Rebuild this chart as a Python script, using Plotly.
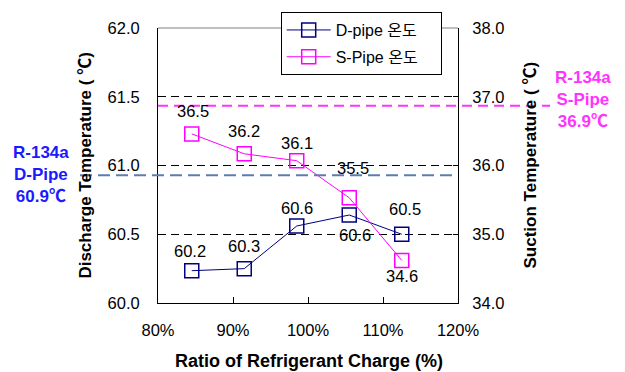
import plotly.graph_objects as go

# ---- data ----
charge_pct = [84.5, 91.5, 98.5, 105.5, 112.5]
d_pipe = [60.235, 60.25, 60.56, 60.64, 60.50]
s_pipe = [36.46, 36.17, 36.07, 35.53, 34.62]
d_labels = ["60.2", "60.3", "60.6", "60.6", "60.5"]
s_labels = ["36.5", "36.2", "36.1", "35.5", "34.6"]
x_ticks = [80, 90, 100, 110, 120]
x_ticklabels = ["80%", "90%", "100%", "110%", "120%"]
d_ref_value = 60.93
s_ref_value = 36.87
d_ref_text = "R-134a<br>D-Pipe<br>60.9℃"
s_ref_text = "R-134a<br>S-Pipe<br>36.9℃"
series_names = ["D-pipe 온도", "S-Pipe 온도"]

FONT = "Arial, 'Liberation Sans', 'Noto Sans CJK KR', sans-serif"
D_COLOR = "#000080"
S_COLOR = "#FF00FF"
PAD = "\u00a0" * 4  # widen legend box

fig = go.Figure()
fig.add_trace(go.Scatter(
    x=charge_pct, y=d_pipe, name=series_names[0] + PAD, mode="lines+markers",
    line=dict(color=D_COLOR, width=1),
    marker=dict(symbol="square-open", size=14, color=D_COLOR, line=dict(width=1.5)),
    legendgroup="d", yaxis="y"))
fig.add_trace(go.Scatter(
    x=charge_pct, y=s_pipe, name=series_names[1] + PAD, mode="lines+markers",
    line=dict(color=S_COLOR, width=1),
    marker=dict(symbol="square-open", size=14, color=S_COLOR, line=dict(width=1.5)),
    legendgroup="s", yaxis="y2"))

annotations = []
d_shift = [(-2, 20), (0, 23), (0, 18), (6, -20), (3, 25)]
s_shift = [(1, 23), (0, 23), (0, 18), (4, 30), (0, -16)]
for x, y, t, (dx, dy) in zip(charge_pct, d_pipe, d_labels, d_shift):
    annotations.append(dict(x=x, y=y, xref="x", yref="y", text=t, showarrow=False,
                            xshift=dx, yshift=dy, font=dict(size=16.5, color="black", family=FONT)))
for x, y, t, (dx, dy) in zip(charge_pct, s_pipe, s_labels, s_shift):
    annotations.append(dict(x=x, y=y, xref="x", yref="y2", text=t, showarrow=False,
                            xshift=dx, yshift=dy, font=dict(size=16.5, color="black", family=FONT)))

# reference texts
annotations.append(dict(x=-0.39, y=d_ref_value, xref="paper", yref="y", text="<b>" + d_ref_text + "</b>",
                        showarrow=False, yshift=1, font=dict(size=17, color="#1A1AFF", family=FONT),
                        xanchor="center", yanchor="middle", align="center"))
annotations.append(dict(x=1.417, y=s_ref_value, xref="paper", yref="y2", text="<b>" + s_ref_text + "</b>",
                        showarrow=False, yshift=6, font=dict(size=17, color="#FF33FF", family=FONT),
                        xanchor="center", yanchor="middle", align="center"))
# axis titles
annotations.append(dict(x=-0.243, y=0.5, xref="paper", yref="paper", text="<b>Discharge Temperature ( ℃)</b>",
                        textangle=-90, showarrow=False, font=dict(size=17, color="black", family=FONT),
                        xanchor="center", yanchor="middle"))
annotations.append(dict(x=1.24, y=0.5, xref="paper", yref="paper", text="<b>Suction Temperature ( ℃)</b>",
                        textangle=-90, showarrow=False, font=dict(size=17, color="black", family=FONT),
                        xanchor="center", yanchor="middle"))
annotations.append(dict(x=0.503, y=-0.212, xref="paper", yref="paper", text="<b>Ratio of Refrigerant Charge (%)</b>",
                        showarrow=False, font=dict(size=18, color="black", family=FONT),
                        xanchor="center", yanchor="middle"))

shapes = [
    dict(type="line", xref="paper", yref="paper", x0=0, x1=1, y0=1, y1=1,
         line=dict(color="#808080", width=1)),
    dict(type="line", xref="paper", yref="y", x0=-0.26, x1=0.98, y0=d_ref_value, y1=d_ref_value,
         line=dict(color="#5B7DB3", width=2, dash="12px,6px")),
    dict(type="line", xref="paper", yref="y2", x0=0, x1=1.307, y0=s_ref_value, y1=s_ref_value,
         line=dict(color="#FF33FF", width=2, dash="10px,6px")),
]

fig.update_layout(
    width=625, height=372,
    margin=dict(l=158, r=167, t=24, b=69),
    paper_bgcolor="white", plot_bgcolor="white",
    font=dict(family=FONT, size=16, color="black"),
    showlegend=True,
    legend=dict(x=0.409, y=1.058, xanchor="left", yanchor="top",
                bgcolor="white", bordercolor="black", borderwidth=1,
                font=dict(size=16, family=FONT), tracegroupgap=3,
                itemwidth=44),
    xaxis=dict(range=[80, 120], tickvals=x_ticks, ticktext=x_ticklabels,
               showgrid=False, zeroline=False, showline=True, linecolor="black", linewidth=1,
               ticks="inside", ticklen=6, tickcolor="black", ticklabelstandoff=12,
               tickfont=dict(size=16.5)),
    yaxis=dict(range=[60, 62], dtick=0.5, tick0=60, tickformat=".1f",
               showgrid=True, gridcolor="black", gridwidth=1, griddash="8px,5px",
               zeroline=False, showline=True, linecolor="black", linewidth=1,
               ticks="inside", ticklen=5, tickcolor="black", ticklabelstandoff=14,
               tickfont=dict(size=16.5)),
    yaxis2=dict(range=[34, 38], dtick=1, tick0=34, tickformat=".1f", overlaying="y", side="right",
                showgrid=False, zeroline=False, showline=True, linecolor="black", linewidth=1,
                ticks="inside", ticklen=5, tickcolor="black", ticklabelstandoff=10,
                tickfont=dict(size=16.5)),
    annotations=annotations,
    shapes=shapes,
)

fig.write_html("out.html")
